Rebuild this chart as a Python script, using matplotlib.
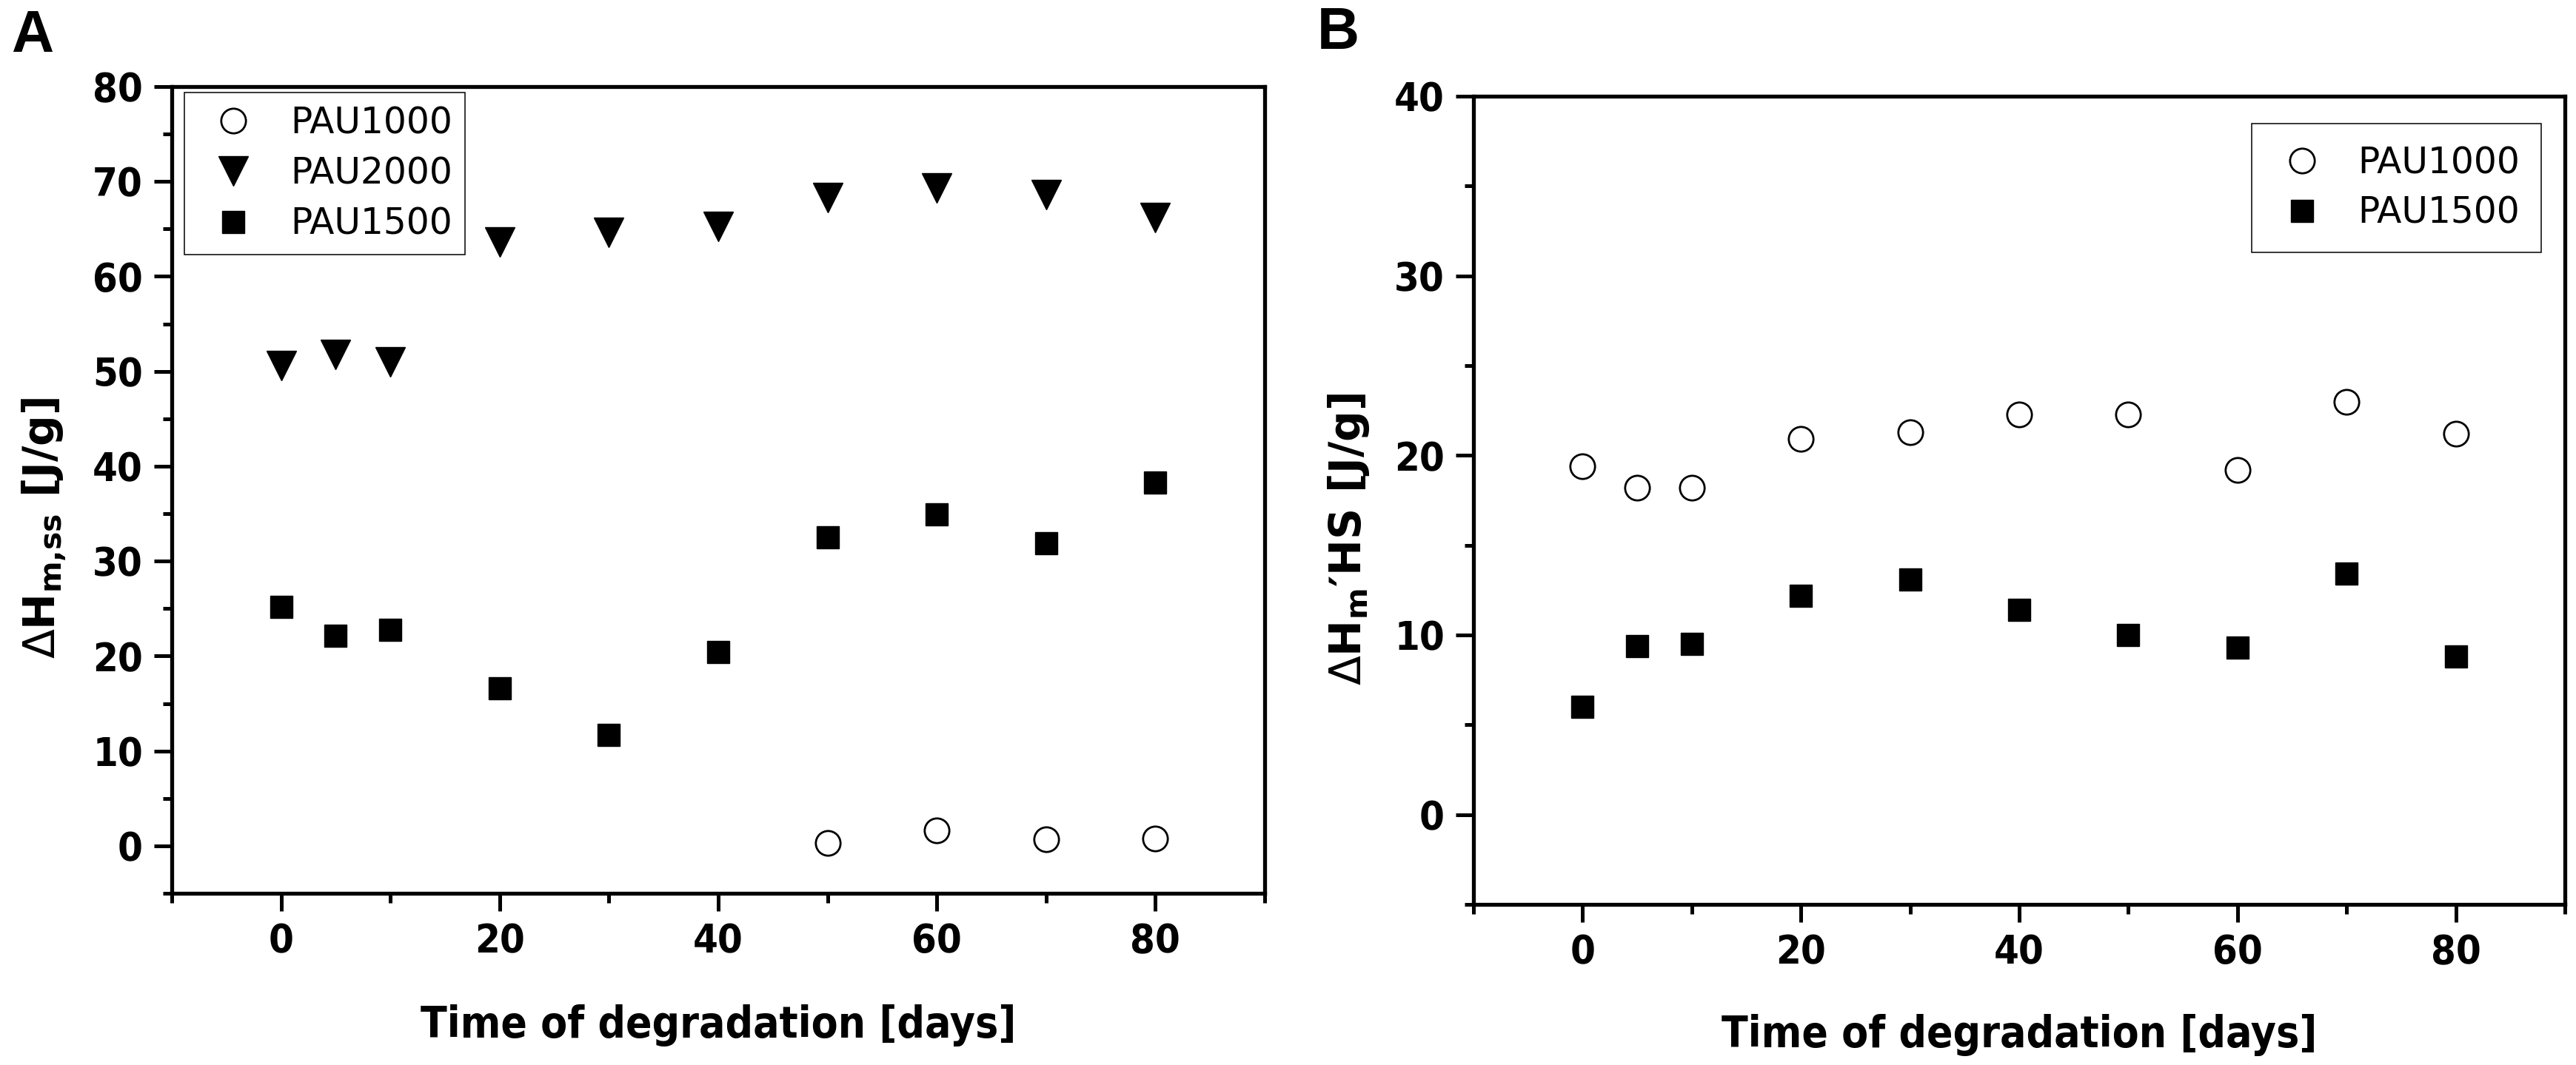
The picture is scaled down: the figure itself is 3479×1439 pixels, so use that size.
import matplotlib
matplotlib.use("Agg")
import matplotlib.pyplot as plt
from matplotlib.ticker import MultipleLocator
from matplotlib.font_manager import FontProperties

# days of degradation
days = [0, 5, 10, 20, 30, 40, 50, 60, 70, 80]
days_pau1000_a = [50, 60, 70, 80]

# panel A: melting enthalpy of soft segments [J/g]
pau1000_a = [0.3, 1.6, 0.7, 0.8]
pau2000_a = [50.6, 51.8, 51.0, 63.6, 64.6, 65.3, 68.3, 69.3, 68.6, 66.2]
pau1500_a = [25.2, 22.1, 22.8, 16.6, 11.7, 20.4, 32.5, 34.9, 31.9, 38.3]

# panel B: melting enthalpy of hard segments [J/g]
pau1000_b = [19.4, 18.2, 18.2, 20.9, 21.3, 22.3, 22.3, 19.2, 23.0, 21.2]
pau1500_b = [6.0, 9.4, 9.5, 12.2, 13.1, 11.4, 10.0, 9.3, 13.4, 8.8]

W, H = 3479, 1439
fig = plt.figure(figsize=(W / 100, H / 100), dpi=100)


def box(x0, y0, x1, y1):
    return [x0 / W, 1 - y1 / H, (x1 - x0) / W, (y1 - y0) / H]


tickfont = FontProperties(family="DejaVu Sans", weight="bold", stretch="condensed", size=39)
labfont = FontProperties(family="DejaVu Sans", weight="bold", stretch="condensed", size=42)
legfont = FontProperties(family="DejaVu Sans", size=35)

circle = dict(marker="o", mfc="white", mec="black", ms=24, mew=2, ls="none")
tri = dict(marker="v", color="black", ms=29, ls="none")
square = dict(marker="s", color="black", ms=22, mew=1, ls="none")


def style(ax, ymin, ymax):
    ax.set_xlim(-10, 90)
    ax.set_ylim(ymin, ymax)
    ax.xaxis.set_major_locator(MultipleLocator(20))
    ax.xaxis.set_minor_locator(MultipleLocator(10))
    ax.yaxis.set_major_locator(MultipleLocator(10))
    ax.yaxis.set_minor_locator(MultipleLocator(5))
    for s in ax.spines.values():
        s.set_linewidth(3.8)
    ax.tick_params(which="major", direction="out", length=17, width=3.6, pad=11)
    ax.tick_params(which="minor", direction="out", length=9, width=3.6)
    for lab in ax.get_xticklabels() + ax.get_yticklabels():
        lab.set_fontproperties(tickfont)


# ---- panel A
axA = fig.add_axes(box(232, 117, 1708, 1207))
axA.plot(days_pau1000_a, pau1000_a, label="PAU1000", **circle)
axA.plot(days, pau2000_a, label="PAU2000", **tri)
axA.plot(days, pau1500_a, label="PAU1500", **square)
style(axA, -5, 80)
legA = axA.legend(loc="upper left", bbox_to_anchor=(249 / W, 1 - 125 / H),
                  bbox_transform=fig.transFigure, borderaxespad=0, fancybox=False,
                  edgecolor="black", framealpha=1, prop=legfont, borderpad=0.35,
                  handlelength=2.0, handletextpad=0.6, labelspacing=0.42, numpoints=1)
legA.get_frame().set_linewidth(1.1)

# ---- panel B
axB = fig.add_axes(box(1990, 130, 3464, 1222))
axB.plot(days, pau1000_b, label="PAU1000", **circle)
axB.plot(days, pau1500_b, label="PAU1500", **square)
style(axB, -5, 40)
legB = axB.legend(loc="upper right", bbox_to_anchor=(3432 / W, 1 - 167 / H),
                  bbox_transform=fig.transFigure, borderaxespad=0, fancybox=False,
                  edgecolor="black", framealpha=1, prop=legfont, borderpad=0.6,
                  handlelength=1.6, handletextpad=0.75, labelspacing=0.4, numpoints=1)
legB.get_frame().set_linewidth(1.1)

# axis titles
xlab = "Time of degradation [days]"
fig.text(970 / W, 1 - 1402 / H, xlab, fontproperties=labfont, ha="center", va="baseline")
fig.text(2727 / W, 1 - 1415 / H, xlab, fontproperties=labfont, ha="center", va="baseline")
fig.text(60 / W, 1 - 713 / H, r"$\Delta$H$_{\mathregular{m{,}ss}}$ [J/g]",
         family="DejaVu Sans", weight="bold", size=42, rotation=90, ha="center", va="center")
fig.text(1822 / W, 1 - 728 / H, "$\\Delta$H$_{\\mathregular{m}}$\u2032HS [J/g]",
         family="DejaVu Sans", weight="bold", size=42, rotation=90, ha="center", va="center")

# panel letters
fig.text(15 / W, 1 - 70 / H, "A", family="Liberation Sans", weight="bold", size=57, va="baseline")
fig.text(1779 / W, 1 - 66 / H, "B", family="Liberation Sans", weight="bold", size=57, va="baseline")

fig.savefig("out.png", dpi=100, facecolor="white")
